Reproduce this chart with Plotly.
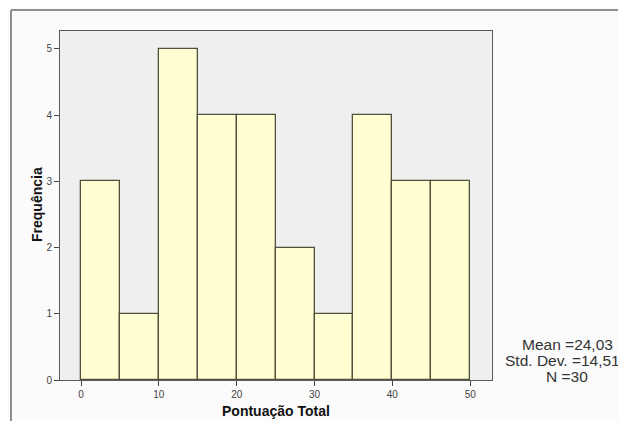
import plotly.graph_objects as go

bin_edges = [0, 5, 10, 15, 20, 25, 30, 35, 40, 45, 50]
frequencies = [3, 1, 5, 4, 4, 2, 1, 4, 3, 3]
x_ticks = [0, 10, 20, 30, 40, 50]
y_ticks = [0, 1, 2, 3, 4, 5]
stats_lines = ["Mean =24,03", "Std. Dev. =14,514", "N =30"]
x_title = "Pontuação Total"
y_title = "Frequência"

centers = [(bin_edges[i] + bin_edges[i + 1]) / 2 for i in range(len(frequencies))]
widths = [bin_edges[i + 1] - bin_edges[i] for i in range(len(frequencies))]

OFF = 7  # page offset of the rendered figure (body margin)
W, H = 626, 421
L, T = 59 - OFF, 30 - OFF
pw, ph = 432, 349
R, B = W - L - pw, H - T - ph

def px(xp):
    return (xp - OFF - L) / pw

def py(yp):
    return (T + ph - (yp - OFF)) / ph

fig = go.Figure()
fig.add_trace(go.Bar(
    x=centers, y=frequencies, width=widths,
    marker=dict(color="#FFFFD2", line=dict(color="#50503f", width=1.3)),
    hoverinfo="skip",
))

tickfont = dict(family="Arial, Liberation Sans", size=10, color="#444444")
fig.update_layout(
    width=W, height=H,
    margin=dict(l=L, r=R, t=T, b=B),
    paper_bgcolor="#FBFBFB",
    plot_bgcolor="#EFEFEF",
    showlegend=False,
    bargap=0,
    xaxis=dict(range=[-2.7, 52.8], tickvals=x_ticks, ticks="outside", ticklen=5,
               tickcolor="#444444", showgrid=False, zeroline=False,
               showline=True, linecolor="#5a5a5a", linewidth=1, mirror=True,
               tickfont=tickfont),
    yaxis=dict(range=[0, 5.27], tickvals=y_ticks, ticks="outside", ticklen=5,
               tickcolor="#444444", showgrid=False, zeroline=False,
               showline=True, linecolor="#5a5a5a", linewidth=1, mirror=True,
               tickfont=tickfont),
)

# Axis titles
fig.add_annotation(text="<b>%s</b>" % x_title, xref="paper", yref="paper",
                   x=px(275), y=py(410), showarrow=False,
                   xanchor="center", yanchor="middle",
                   font=dict(family="Arial, Liberation Sans", size=14, color="#111111"))
fig.add_annotation(text="<b>%s</b>" % y_title, xref="paper", yref="paper",
                   x=px(36), y=py(204), showarrow=False, textangle=-90,
                   xanchor="center", yanchor="middle",
                   font=dict(family="Arial, Liberation Sans", size=14, color="#111111"))

# Statistics text
for i, line in enumerate(stats_lines):
    fig.add_annotation(text=line, xref="paper", yref="paper",
                       x=px(566), y=py(343 + i * 16), showarrow=False,
                       xanchor="center", yanchor="middle",
                       font=dict(family="Arial, Liberation Sans", size=15.5, color="#333333"))

# Outer frame (top and left)
fig.add_shape(type="line", xref="paper", yref="paper",
              x0=px(10), x1=px(660), y0=py(9), y1=py(9),
              line=dict(color="#8f8f8f", width=2))
fig.add_shape(type="line", xref="paper", yref="paper",
              x0=px(10), x1=px(10), y0=py(9), y1=py(460),
              line=dict(color="#8f8f8f", width=2))

fig.write_html("out.html")
